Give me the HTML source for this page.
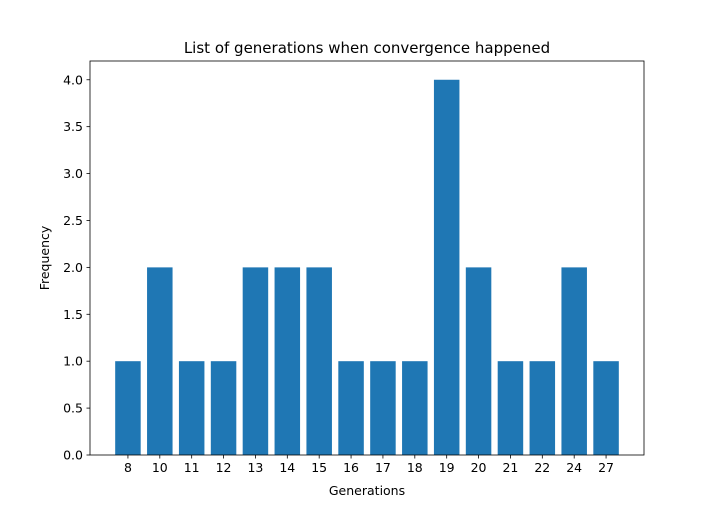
<!DOCTYPE html>
<html><head><meta charset="utf-8"><style>
body{margin:0;background:#fff;}
svg text{font-family:"DejaVu Sans","Liberation Sans",sans-serif;}
</style></head><body>
<svg id="chart" width="716" height="511" xmlns="http://www.w3.org/2000/svg"></svg>
<script>
const categories = ["8","10","11","12","13","14","15","16","17","18","19","20","21","22","24","27"];
const frequencies = [1,2,1,1,2,2,2,1,1,1,4,2,1,1,2,1];
const yTicks = [0,0.5,1,1.5,2,2.5,3,3.5,4];
const yTickLabels = ["0.0","0.5","1.0","1.5","2.0","2.5","3.0","3.5","4.0"];

const L=90,R=644,T=61,B=455;
const xmin=-1.19,xmax=categories.length-1+1.19,ymax=4.2;
const xs=v=>L+(v-xmin)/(xmax-xmin)*(R-L);
const ys=v=>B-v/ymax*(B-T);
const svg=document.getElementById('chart');
const NS="http://www.w3.org/2000/svg";
function mk(tag,attrs,parent){const e=document.createElementNS(NS,tag);for(const k in attrs)e.setAttribute(k,attrs[k]);(parent||svg).appendChild(e);return e;}

const bg=mk('rect',{x:0,y:0,width:716,height:511,fill:'#fff'});



frequencies.forEach((v,i)=>{
  const b=mk('rect',{x:xs(i-0.4),y:ys(v),width:xs(i+0.4)-xs(i-0.4),height:ys(0)-ys(v),fill:'#1f77b4'});
  
  
});

const frame=mk('rect',{x:L,y:T,width:R-L,height:B-T,fill:'none',stroke:'#000','stroke-width':0.8});



categories.forEach((c,i)=>{
  const x=xs(i);
  const t=mk('line',{x1:x,x2:x,y1:B,y2:B+3.5,stroke:'#000','stroke-width':0.8});
  
  
  const lb=mk('text',{x:x,y:B+17,'text-anchor':'middle','font-size':'12.5'});
  lb.textContent=c;
  
  
});
yTicks.forEach((v,i)=>{
  const y=ys(v);
  const t=mk('line',{x1:L-3.5,x2:L,y1:y,y2:y,stroke:'#000','stroke-width':0.8});
  
  
  const lb=mk('text',{x:L-7,y:y+4.5,'text-anchor':'end','font-size':'12.5'});
  lb.textContent=yTickLabels[i];
  
  
});

const title=mk('text',{x:(L+R)/2,y:53,'text-anchor':'middle','font-size':'15'});
title.textContent='List of generations when convergence happened';



const xt=mk('text',{x:(L+R)/2,y:495,'text-anchor':'middle','font-size':'12.5'});
xt.textContent='Generations';



const yt=mk('text',{x:49,y:(T+B)/2,'text-anchor':'middle','font-size':'12.5',transform:'rotate(-90 49 '+((T+B)/2)+')'});
yt.textContent='Frequency';


</script>
</body></html>
